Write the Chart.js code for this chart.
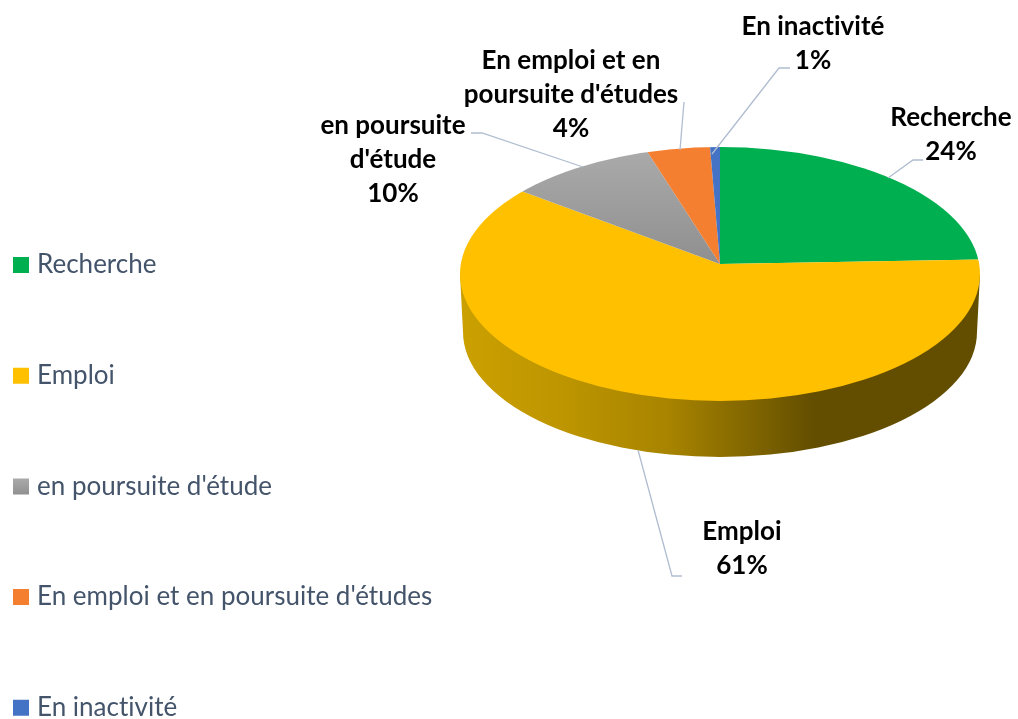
<!DOCTYPE html>
<html>
<head>
<meta charset="utf-8">
<style>
  html, body { margin: 0; padding: 0; background: #fff; }
  canvas { display: block; }
</style>
<script src="https://cdn.jsdelivr.net/npm/chart.js@4"></script>
</head>
<body>
<canvas id="pie" width="1018" height="719"></canvas>
<script>
const categories = ['Recherche', 'Emploi', "en poursuite d'étude", "En emploi et en poursuite d'études", 'En inactivité'];
const shares = [24.4, 61.49, 9.6, 3.9, 0.61];
const colors = ['#00b050', '#ffc000', '#a5a5a5', '#f47f30', '#4472c4'];
const labelLines = [['Recherche'], ['Emploi'], ['en poursuite', "d'étude"], ['En emploi et en', "poursuite d'études"], ['En inactivité']];

// where things sit on the page
const apex = { x: 720, y: 264 };
const topFace = { x: 720, y: 274, rx: 260, ry: 127 };
const bottomFace = { x: 720, y: 332, rx: 257, ry: 125 };
const labelPos = [[951, 118], [742, 532], [393, 126], [571, 61], [813, 27]];
const leaders = [
  [[888, 178], [913, 160], [923, 160]],
  [[638, 450], [672, 576], [682, 576]],
  [[583, 167], [482, 133], [471, 133]],
  [[680, 150], [684, 102]],
  [[712, 154], [779, 68], [790, 68]]
];
const squash = 0.45;
const lineGap = 34;
const labelFont = 'bold 26px Lato';
const legendSize = 26;
const legendPadding = 84.7;

const ctx = document.getElementById('pie').getContext('2d');

function sliceColor(c) {
  // grey slice has a soft top to bottom shade, others are flat
  if (c.dataIndex !== 2 || !c.chart.chartArea) return colors[c.dataIndex];
  const a = c.chart.chartArea;
  const midY = (a.top + a.bottom) / 2;
  const g = ctx.createLinearGradient(0, midY - 117 / squash, 0, midY);
  g.addColorStop(0, '#ababab');
  g.addColorStop(1, '#8f8f8f');
  return g;
}

const pie3d = {
  id: 'pie3d',
  afterLayout(chart) {
    // legend rows span most of the height, free it from the layout box
    const l = chart.legend;
    l.left = 18 - legendPadding;
    l.right = 520;
    l.top = 252 - legendPadding;
    l.bottom = 2000;
  },
  beforeDraw(chart) {
    // non zero spacing turns off the "ti" ligature Lato would use
    chart.ctx.letterSpacing = '0.01px';
  },
  beforeDatasetsDraw(chart) {
    const c = chart.ctx;
    const wall = c.createLinearGradient(topFace.x - topFace.rx, 0, topFace.x + topFace.rx, 0);
    wall.addColorStop(0, '#cba000');
    wall.addColorStop(0.2, '#bd9500');
    wall.addColorStop(0.4, '#a88400');
    wall.addColorStop(0.55, '#836700');
    wall.addColorStop(0.68, '#634e00');
    wall.addColorStop(1, '#634e00');
    c.save();
    c.fillStyle = wall;
    c.beginPath();
    c.ellipse(bottomFace.x, bottomFace.y, bottomFace.rx, bottomFace.ry, 0, 0, Math.PI);
    c.lineTo(topFace.x - topFace.rx, topFace.y);
    c.lineTo(topFace.x + topFace.rx, topFace.y);
    c.closePath();
    c.fill();
    c.restore();

    // top face: chart's own arcs, flattened and cut to the ellipse outline
    const first = chart.getDatasetMeta(0).data[0];
    c.save();
    c.beginPath();
    c.ellipse(topFace.x, topFace.y, topFace.rx, topFace.ry, 0, 0, Math.PI * 2);
    c.clip();
    c.translate(apex.x, apex.y);
    c.scale(1, squash);
    c.translate(-first.x, -first.y);
  },
  afterDatasetsDraw(chart) {
    const c = chart.ctx;
    c.restore();

    c.save();
    c.strokeStyle = '#b0bdd0';
    c.lineWidth = 1.3;
    leaders.forEach(pts => {
      c.beginPath();
      pts.forEach((p, i) => i ? c.lineTo(p[0], p[1]) : c.moveTo(p[0], p[1]));
      c.stroke();
    });

    c.fillStyle = '#000';
    c.font = labelFont;
    c.textAlign = 'center';
    c.textBaseline = 'middle';
    labelLines.forEach((lines, i) => {
      const [x, y] = labelPos[i];
      const all = lines.concat(Math.round(shares[i]) + '%');
      all.forEach((t, k) => c.fillText(t, x, y + k * lineGap));
    });
    c.restore();
  }
};

new Chart(ctx, {
  type: 'pie',
  data: {
    labels: categories,
    datasets: [{
      data: shares,
      backgroundColor: sliceColor,
      borderWidth: 0,
      clip: false
    }]
  },
  options: {
    responsive: false,
    animation: false,
    radius: 340,
    plugins: {
      tooltip: { enabled: false },
      legend: {
        position: 'left',
        align: 'start',
        maxWidth: 100,
        labels: {
          usePointStyle: true,
          pointStyle: 'rect',
          boxWidth: 6,
          boxHeight: 16,
          padding: legendPadding,
          color: '#44546a',
          font: { family: 'Lato', size: legendSize },
          generateLabels(chart) {
            const items = Chart.overrides.pie.plugins.legend.labels.generateLabels(chart);
            const g = ctx.createLinearGradient(0, 478, 0, 495);
            g.addColorStop(0, '#ababab');
            g.addColorStop(1, '#8f8f8f');
            items[2].fillStyle = g;
            return items;
          }
        }
      }
    }
  },
  plugins: [pie3d]
});
</script>
</body>
</html>
